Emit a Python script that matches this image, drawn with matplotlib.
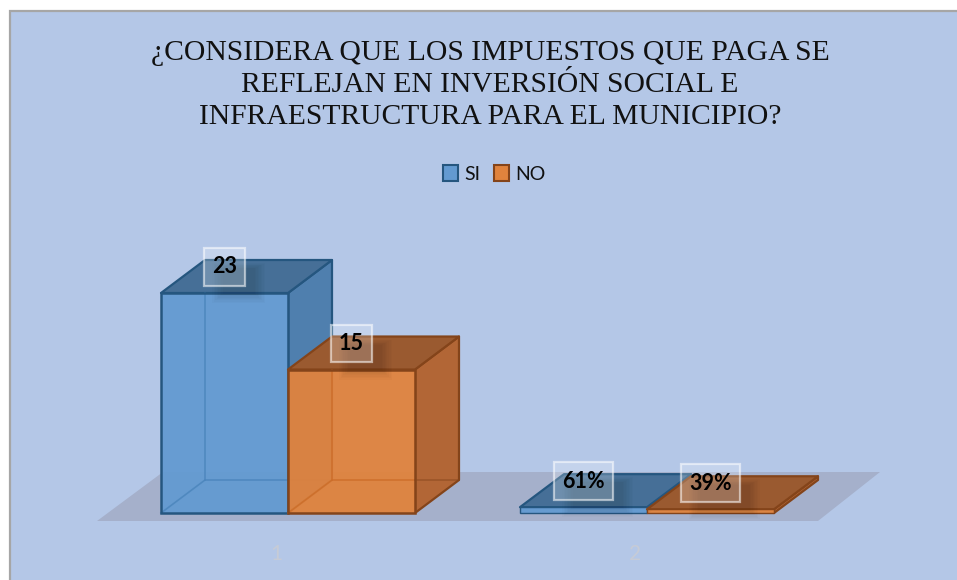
import matplotlib
matplotlib.use("Agg")
import matplotlib.pyplot as plt
from matplotlib.patches import Patch, Polygon, Rectangle
from matplotlib.transforms import ScaledTranslation

categories = [1, 2]
series_names = ["SI", "NO"]
si_values = [23, 0.61]
no_values = [15, 0.39]
si_labels = ["23", "61%"]
no_labels = ["15", "39%"]
title = ("¿CONSIDERA QUE LOS IMPUESTOS QUE PAGA SE\n"
         "REFLEJAN EN INVERSIÓN SOCIAL E\n"
         "INFRAESTRUCTURA PARA EL MUNICIPIO?")

W, H = 957, 580
PX_X = 359.0     # pixels per category
PX_Y = 9.565     # pixels per value unit
BAR_W = 127 / PX_X
DX = 44 / PX_X
DY = 33 / PX_Y

blue = dict(front="#639AD1", side="#4F7FAE", top="#466F97", edge="#25567F", hidden="#4A84BB")
orange = dict(front="#E0833D", side="#B26636", top="#9A5A30", edge="#84441A", hidden="#CC6C28")

fig = plt.figure(figsize=(W / 100, H / 100), dpi=100, facecolor="white")
fig.add_artist(Rectangle((10 / W, -0.02), 1.02, (569 / H) + 0.02, transform=fig.transFigure,
                         facecolor="#B4C7E7", edgecolor="#A6A6A6", linewidth=1.6, zorder=-1))

ax = fig.add_axes([0, (H - 521) / H, 1, 521 / H])
ax.set_xlim(1 - 288 / PX_X, 1 + (W - 288) / PX_X)
ax.set_ylim(-8 / PX_Y, 513 / PX_Y)
ax.patch.set_visible(False)
for s in ax.spines.values():
    s.set_visible(False)
ax.set_yticks([])
ax.set_xticks(categories)
ax.set_xticklabels(categories, color="#C6CBD6", fontsize=15, family="Lato")
ax.tick_params(axis="x", length=0, pad=16.5)
for lab in ax.get_xticklabels():
    lab.set_transform(lab.get_transform() + ScaledTranslation(-12 / 100, 0, fig.dpi_scale_trans))


def draw_floor():
    left = categories[0] - 191 / PX_X
    right = categories[1] + 171 / PX_X
    low = -8 / PX_Y
    high = 41 / PX_Y
    ax.add_patch(Polygon([(left, low), (right, low), (right + 62 / PX_X, high), (left + 66 / PX_X, high)],
                         facecolor="#A5B0CB", edgecolor="none", zorder=1, clip_on=False))


def draw_bar(x0, val, c, z):
    x1 = x0 + BAR_W
    lw = 1.8 if val > 1 else 1.0
    ax.add_patch(Polygon([(x1, 0), (x1 + DX, DY), (x1 + DX, val + DY), (x1, val)],
                         facecolor=c["side"], edgecolor=c["edge"], lw=1.6, joinstyle="round", zorder=z + 0.1))
    ax.add_patch(Polygon([(x0, val), (x1, val), (x1 + DX, val + DY), (x0 + DX, val + DY)],
                         facecolor=c["top"], edgecolor=c["edge"], lw=1.6, joinstyle="round", zorder=z + 0.2))
    ax.add_patch(Rectangle((x0, 0), BAR_W, val, facecolor=c["front"], edgecolor=c["edge"],
                           alpha=0.95, lw=0, zorder=z + 0.3))
    # see-through back edges
    if val > 1:
        ax.plot([x0, x0 + DX, x1], [0, DY, DY], color=c["hidden"], lw=1.2, alpha=0.8, zorder=z + 0.35)
        ax.plot([x0 + DX, x0 + DX], [DY, val], color=c["hidden"], lw=1.2, alpha=0.8, zorder=z + 0.35)
        ax.plot([x1, x1 + DX], [DY, DY], color=c["edge"], lw=1.2, alpha=0.5, zorder=z + 0.35)
    ax.add_patch(Rectangle((x0, 0), BAR_W, val, facecolor="none", edgecolor=c["edge"],
                           lw=lw, zorder=z + 0.4))


def draw_label(x0, val, text, wide):
    xc = x0 + BAR_W / 2
    # soft shadow under the label box, only over the bar top
    for grow in (0, 3, 6, 9, 12, 15, 18, 21):
        ax.add_patch(Rectangle((xc - (wide / 2 - 8 - grow * 0.5) / PX_X, val - (10 - grow * 0.45) / PX_Y),
                               (wide + 12 - grow) / PX_X, (40 - grow * 0.7) / PX_Y,
                               facecolor="black", edgecolor="none", alpha=0.016, zorder=8))
    ax.annotate(text, (xc, val), xytext=(0, 18.8), textcoords="offset points",
                ha="center", va="center", fontsize=15.5, fontweight="bold", family="Lato", color="black",
                zorder=10,
                bbox=dict(boxstyle="square,pad=0.38", facecolor=(1, 1, 1, 0.22),
                          edgecolor=(1, 1, 1, 0.55), linewidth=1.6))


draw_floor()
for i, cat in enumerate(categories):
    draw_bar(cat - BAR_W, si_values[i], blue, 2)
    draw_bar(cat, no_values[i], orange, 4)
for i, cat in enumerate(categories):
    draw_label(cat - BAR_W, si_values[i], si_labels[i], 41 if i == 0 else 59)
    draw_label(cat, no_values[i], no_labels[i], 41 if i == 0 else 59)

fig.text(490 / W, 1 - 85 / H, title, ha="center", va="center", family="Liberation Serif",
         fontsize=21.3, color="#111111", linespacing=1.32)

handles = [Patch(facecolor=blue["front"], edgecolor=blue["edge"], lw=1.5),
           Patch(facecolor=orange["front"], edgecolor=orange["edge"], lw=1.5)]
fig.legend(handles, series_names, loc="center", bbox_to_anchor=(494 / W, 1 - 174 / H), ncol=2, frameon=False,
           prop=dict(family="Lato", size=14), handlelength=0.8, handleheight=0.9,
           handletextpad=0.3, columnspacing=0.7, labelcolor="#111111")

fig.savefig("out.png", dpi=100, facecolor=fig.get_facecolor())
